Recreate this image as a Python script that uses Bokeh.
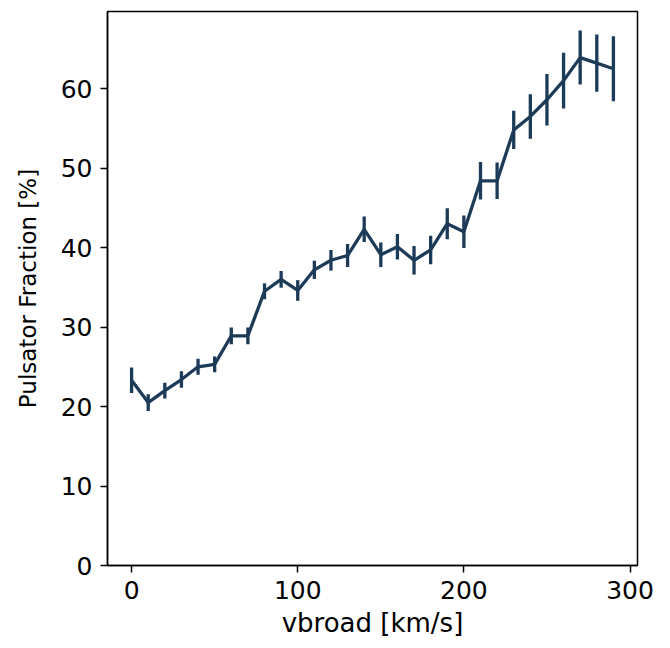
from bokeh.plotting import figure
from bokeh.models import Range1d, FixedTicker
from bokeh.embed import file_html
from bokeh.resources import INLINE

vbroad = [0, 10, 20, 30, 40, 50, 60, 70, 80, 90, 100, 110, 120, 130, 140,
          150, 160, 170, 180, 190, 200, 210, 220, 230, 240, 250, 260, 270, 280, 290]
fraction = [23.3, 20.5, 22.0, 23.4, 25.0, 25.3, 28.9, 28.9, 34.5, 36.0, 34.6, 37.2,
            38.4, 39.0, 42.3, 39.1, 40.1, 38.4, 39.7, 43.0, 42.0, 48.4, 48.4, 54.8,
            56.5, 58.6, 61.0, 63.9, 63.2, 62.5]
error = [1.6, 1.05, 1.0, 1.05, 1.0, 1.0, 1.05, 1.05, 1.0, 1.05, 1.3, 1.15,
         1.3, 1.45, 1.6, 1.55, 1.6, 1.8, 1.8, 1.95, 2.05, 2.35, 2.3, 2.4,
         2.8, 3.25, 3.5, 3.4, 3.6, 4.1]
x_ticks = [0, 100, 200, 300]
y_ticks = [0, 10, 20, 30, 40, 50, 60]

color = "#1c3b58"
font = "DejaVu Sans"

p = figure(width=660, height=640, output_backend="svg", toolbar_location=None,
           x_range=Range1d(-14.5, 304.5), y_range=Range1d(0, 69.7),
           min_border_left=107, min_border_right=23, min_border_top=11, min_border_bottom=75)
p.grid.visible = False
p.outline_line_color = "black"
p.outline_line_width = 1.5
p.background_fill_color = "white"
p.border_fill_color = "white"

lower = [f - e for f, e in zip(fraction, error)]
upper = [f + e for f, e in zip(fraction, error)]
p.segment(x0=vbroad, y0=lower, x1=vbroad, y1=upper, line_color=color, line_width=3.3)
p.line(vbroad, fraction, line_color=color, line_width=3.3)

p.xaxis.ticker = FixedTicker(ticks=x_ticks)
p.yaxis.ticker = FixedTicker(ticks=y_ticks)
p.xaxis.axis_label = "vbroad [km/s]"
p.yaxis.axis_label = "Pulsator Fraction [%]"
for ax in (p.xaxis[0], p.yaxis[0]):
    ax.axis_line_color = "black"
    ax.axis_line_width = 1.5
    ax.major_tick_line_color = "black"
    ax.major_tick_line_width = 1.5
    ax.major_tick_out = 7
    ax.major_tick_in = 0
    ax.minor_tick_line_color = None
    ax.major_label_text_font = font
    ax.major_label_text_font_size = "25px"
    ax.major_label_text_color = "black"
    ax.axis_label_text_font = font
    ax.axis_label_text_font_style = "normal"
    ax.axis_label_text_color = "black"
    ax.major_label_standoff = 8
p.xaxis[0].axis_label_text_font_size = "26px"
p.yaxis[0].axis_label_text_font_size = "23px"
p.xaxis[0].axis_label_standoff = 6
p.yaxis[0].axis_label_standoff = 17

open("out.html", "w").write(file_html(p, INLINE))
